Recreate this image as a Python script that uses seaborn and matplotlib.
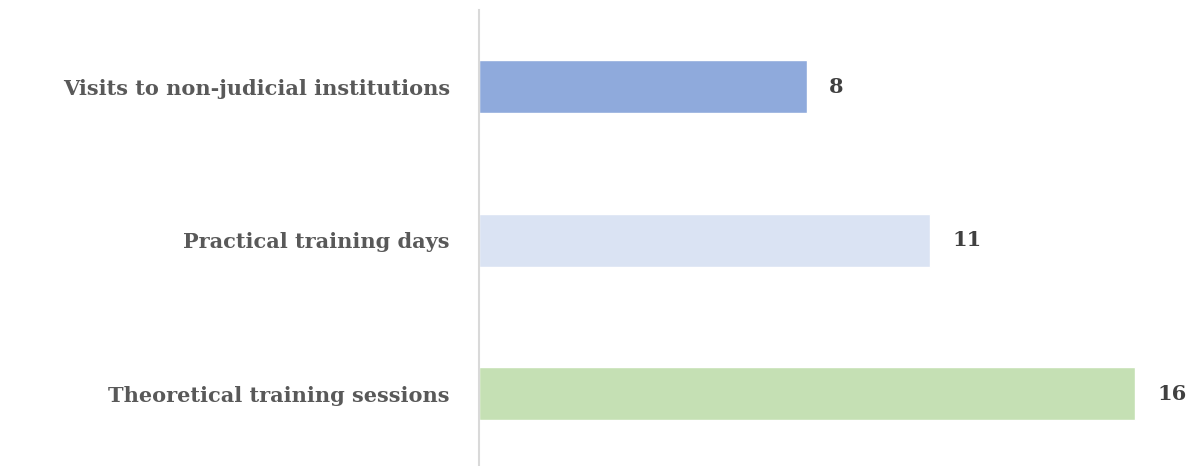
import matplotlib
matplotlib.use("Agg")
import matplotlib.pyplot as plt
import seaborn as sns
import pandas as pd

categories = ["Visits to non-judicial institutions", "Practical training days", "Theoretical training sessions"]
values = [8, 11, 16]
colors = ["#8FAADC", "#DAE3F3", "#C5E0B4"]

df = pd.DataFrame({"category": categories, "value": values})

sns.set_style("white")
plt.rcParams["font.family"] = ["DejaVu Serif"]

fig = plt.figure(figsize=(11.96, 4.66), dpi=100)
ax = fig.add_axes([479 / 1196, 0, 717 / 1196, 456 / 466])

sns.barplot(data=df, x="value", y="category", hue="category", palette=colors,
            orient="h", width=0.345, legend=False, ax=ax, saturation=1)

for c in ax.containers:
    ax.bar_label(c, padding=16, fontsize=15, fontweight="bold", color="#404040")

ax.set_xlim(0, 17.49)
ax.set_ylim(2.472, -0.5)
ax.set_xlabel("")
ax.set_ylabel("")
ax.set_xticks([])
ax.tick_params(axis="y", length=0, pad=21)
for lbl in ax.get_yticklabels():
    lbl.set_fontsize(15)
    lbl.set_fontweight("bold")
    lbl.set_color("#595959")

for side in ["top", "right", "bottom"]:
    ax.spines[side].set_visible(False)
ax.spines["left"].set_color("#D9D9D9")
ax.spines["left"].set_linewidth(1.5)

fig.savefig("out.png", dpi=100)
